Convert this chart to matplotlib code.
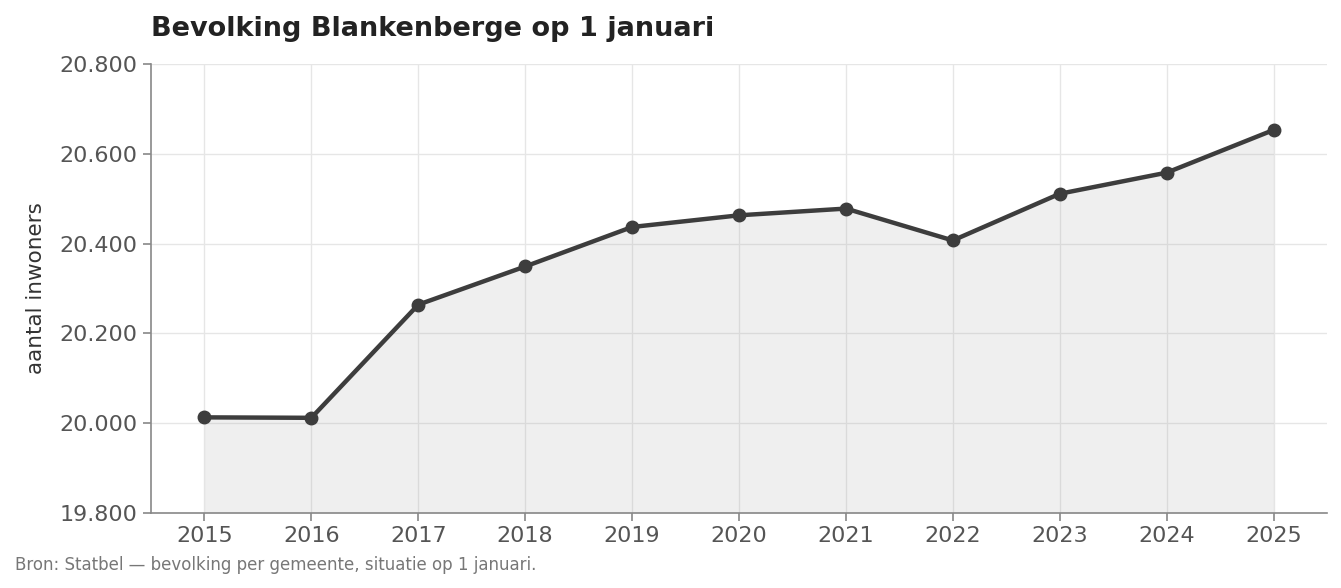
import matplotlib
matplotlib.use("Agg")
from matplotlib import pyplot as plt
from matplotlib.ticker import FuncFormatter

jaren = [2015, 2016, 2017, 2018, 2019, 2020, 2021, 2022, 2023, 2024, 2025]
inwoners = [20013, 20012, 20264, 20349, 20437, 20463, 20478, 20407, 20511, 20558, 20653]

plt.rcParams['font.family'] = ['DejaVu Sans']

fig = plt.figure(figsize=(13.41, 5.88), dpi=100)
ax = fig.add_axes([151/1341, 1-513/588, (1327-151)/1341, (513-64)/588])

# halfdoorzichtige vulling, zodat het raster erdoor zichtbaar blijft
ax.fill_between(jaren, inwoners, 19800, color='#a0a0a0', alpha=0.16, lw=0, zorder=2)
ax.plot(jaren, inwoners, color='#3d3d3d', lw=3.2, marker='o', ms=9, zorder=3)

ax.set_xlim(2014.5, 2025.5)
ax.set_ylim(19800, 20800)
ax.set_xticks(jaren)
ax.set_yticks(range(19800, 20801, 200))
ax.yaxis.set_major_formatter(FuncFormatter(lambda v, p: f"{int(v):,}".replace(",", ".")))

ax.grid(True, color='#e6e6e6', lw=1, zorder=0)
ax.set_axisbelow(True)
for s in ['top', 'right']:
    ax.spines[s].set_visible(False)
for s in ['left', 'bottom']:
    ax.spines[s].set_color('#888888')
    ax.spines[s].set_linewidth(1.2)
ax.tick_params(colors='#888888', labelcolor='#555555', labelsize=16, length=6, width=1.2)

ax.set_ylabel('aantal inwoners', fontsize=15.5, color='#333333', labelpad=10)
ax.set_title('Bevolking Blankenberge op 1 januari', loc='left', fontsize=19.5,
             fontweight='bold', color='#222222', pad=20)
fig.text(15/1341, 1-565/588, 'Bron: Statbel — bevolking per gemeente, situatie op 1 januari.',
         fontsize=12, color='#777777', va='center', ha='left')

fig.savefig('out.png', dpi=100)
